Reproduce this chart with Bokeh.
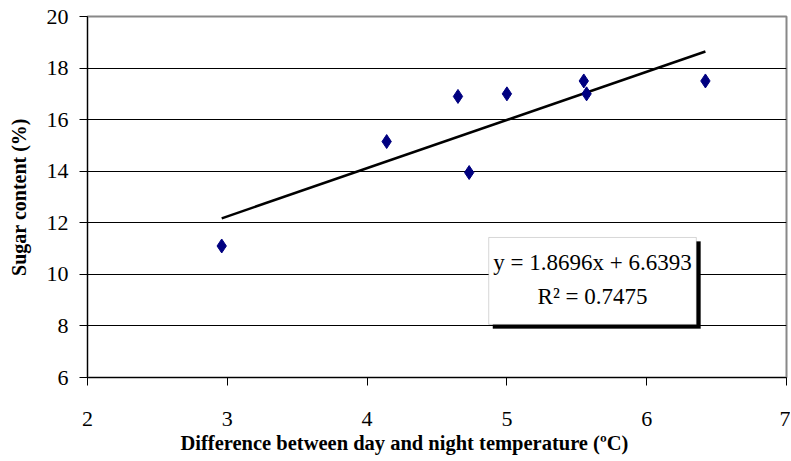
from bokeh.plotting import figure
from bokeh.models import Range1d, Label, BoxAnnotation, FixedTicker, ColumnDataSource, Title
from bokeh.embed import file_html
from bokeh.resources import INLINE

# Data
temp_diff = [2.96, 4.14, 4.65, 4.73, 5.0, 5.55, 5.57, 6.42]
sugar = [11.1, 15.15, 16.9, 13.95, 17.0, 17.5, 17.0, 17.5]
slope = 1.8696
intercept = 6.6393
r2 = 0.7475
x_ticks = [2, 3, 4, 5, 6, 7]
y_ticks = [6, 8, 10, 12, 14, 16, 18, 20]
x_title = "Difference between day and night temperature (ºC)"
y_title = "Sugar content (%)"

FONT = "Liberation Serif"

p = figure(width=790, height=455, output_backend="svg", toolbar_location=None,
           x_range=Range1d(2, 7), y_range=Range1d(6, 20),
           min_border_left=87, min_border_right=4, min_border_top=16, min_border_bottom=78)
p.outline_line_color = "#888888"
p.outline_line_width = 2
p.background_fill_color = "white"
p.border_fill_color = "white"

p.xgrid.grid_line_color = None
p.ygrid.grid_line_color = "black"
p.ygrid.grid_line_width = 1
p.ygrid.ticker = FixedTicker(ticks=y_ticks)

for ax in (p.xaxis[0], p.yaxis[0]):
    ax.axis_line_color = "black"
    ax.axis_line_width = 1
    ax.major_tick_line_color = "black"
    ax.major_tick_in = 0
    ax.major_tick_out = 8
    ax.minor_tick_line_color = None
    ax.major_label_text_font = FONT
    ax.major_label_text_font_size = "22px"
    ax.major_label_text_color = "black"
    ax.axis_label_text_font = FONT
    ax.axis_label_text_font_style = "bold"
    ax.axis_label_text_font_size = "20px"
    ax.axis_label_text_color = "black"

p.xaxis.ticker = FixedTicker(ticks=x_ticks)
p.yaxis.ticker = FixedTicker(ticks=y_ticks)
p.xaxis.major_label_standoff = 26
p.yaxis.major_label_standoff = 11
p.yaxis.axis_label = y_title
p.yaxis.axis_label_standoff = 14

p.add_layout(Title(text=x_title, align="left", offset=93, text_font=FONT,
                   text_font_style="bold", text_font_size="20.5px", text_color="black",
                   standoff=2), "below")

# trend line
x0, x1 = min(temp_diff), max(temp_diff)
p.line([x0, x1], [slope * x0 + intercept, slope * x1 + intercept], line_color="black", line_width=2.5)

src = ColumnDataSource(dict(x=temp_diff, y=sugar))
p.scatter("x", "y", source=src, marker="diamond", size=14, fill_color="#000080", line_color="#000080")

# equation box with shadow
bl, br, bt, bb = 4.87, 6.355, 11.43, 8.06
p.add_layout(BoxAnnotation(left=bl + 0.03, right=br + 0.03, top=bt - 0.16, bottom=bb - 0.16,
                           fill_color="black", fill_alpha=1, line_color="black", level="overlay"))
p.add_layout(BoxAnnotation(left=bl, right=br, top=bt, bottom=bb,
                           fill_color="white", fill_alpha=1, line_color="#777777", line_width=1, level="overlay"))
cx = (bl + br) / 2
p.add_layout(Label(x=cx, y=bt - (bt - bb) * 0.29, text=f"y = {slope}x + {intercept}",
                   text_align="center", text_baseline="middle", text_font=FONT,
                   text_font_size="23px", text_color="black", level="overlay"))
p.add_layout(Label(x=cx, y=bt - (bt - bb) * 0.68, text=f"R² = {r2}",
                   text_align="center", text_baseline="middle", text_font=FONT,
                   text_font_size="23px", text_color="black", level="overlay"))

open("out.html", "w").write(file_html(p, INLINE))
